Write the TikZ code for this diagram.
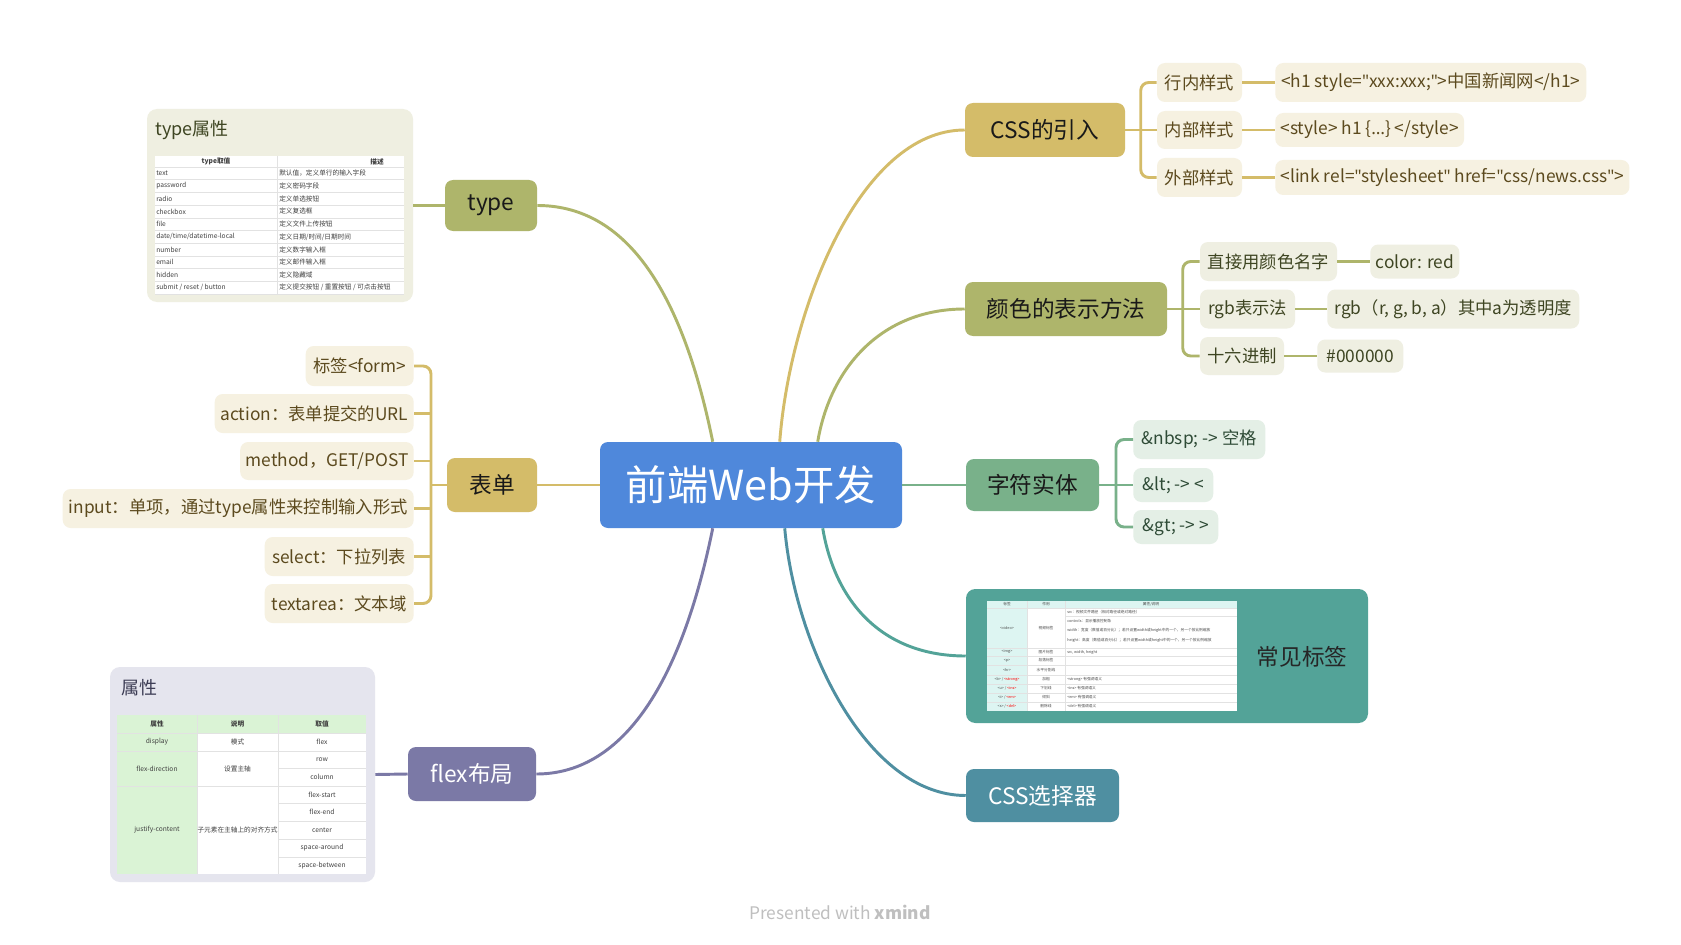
\documentclass[tikz,border=0pt]{standalone}
\usepackage{fontspec}
\setmainfont{Noto Sans CJK SC}
\newfontfamily\latf{Noto Sans}
\usetikzlibrary{calc}
\definecolor{cgold}{HTML}{D4BC69}
\definecolor{colive}{HTML}{AEB56B}
\definecolor{cgreen}{HTML}{79B18A}
\definecolor{cteal}{HTML}{53A398}
\definecolor{csteel}{HTML}{4F8FA1}
\definecolor{cpurple}{HTML}{7B79A6}
\definecolor{cblue}{HTML}{4F88DB}
\definecolor{goldbg}{HTML}{F6F1E1}
\definecolor{olivebg}{HTML}{EFEFE2}
\definecolor{greenbg}{HTML}{E4EFE6}
\definecolor{tpanelbg}{HTML}{EFEFE1}
\definecolor{fpanelbg}{HTML}{E5E5EE}
\definecolor{goldtx}{HTML}{5C4A1E}
\definecolor{olivetx}{HTML}{3E4522}
\definecolor{greentx}{HTML}{2E4B36}
\definecolor{purpletx}{HTML}{3D3D55}
\definecolor{tabgreen}{HTML}{DAF3D5}
\definecolor{tabcyan}{HTML}{DDF5F2}
\definecolor{tabline}{HTML}{E2E2E2}
\newcommand\myfs[1]{\fontsize{#1}{#1}\selectfont}
\newcommand\qt{{\latf"}}
\tikzset{
  mainbox/.style={rectangle, rounded corners=6pt, inner sep=0pt, font=\myfs{17pt}, text=black!90},
  subbox/.style={rectangle, rounded corners=6pt, inner sep=0pt, inner xsep=4pt, font=\myfs{13pt}},
  goldsub/.style={subbox, fill=goldbg, text=goldtx},
  olivesub/.style={subbox, fill=olivebg, text=olivetx},
  greensub/.style={subbox, fill=greenbg, text=greentx},
  lnk/.style={line width=2.2pt},
  cell/.style={inner sep=0pt, font=\myfs{5pt}, text=black!75},
  tcell/.style={inner sep=0pt, font=\myfs{2.8pt}, text=black!70},
  tabrule/.style={draw=tabline, line width=0.4pt}
}
\begin{document}
\begin{tikzpicture}[x=0.75pt,y=-0.75pt]
\fill[white] (0,0) rectangle (1681,945);
\useasboundingbox (0,0) rectangle (1681,945);

% ---------- main nodes ----------
\node[mainbox, fill=cblue, text=white, font=\myfs{31pt}, minimum width=226.5pt, minimum height=64.5pt] (central) at (751,485) {前端Web开发};
\node[mainbox, fill=colive, minimum width=69pt, minimum height=38.25pt] (type) at (491,205.5) {type};
\node[mainbox, fill=cgold, minimum width=67.5pt, minimum height=40.5pt] (form) at (492,485) {表单};
\node[mainbox, fill=cpurple, text=white, minimum width=96pt, minimum height=40.5pt] (flex) at (472,774) {flex布局};
\node[mainbox, fill=cgold, minimum width=120pt, minimum height=40.5pt] (css) at (1045,130) {CSS的引入};
\node[mainbox, fill=colive, minimum width=151.5pt, minimum height=40.5pt] (color) at (1066,309) {颜色的表示方法};
\node[mainbox, fill=cgreen, minimum width=99.75pt, minimum height=39pt] (entity) at (1032.5,485) {字符实体};
\node[mainbox, fill=cteal, rounded corners=7pt, minimum width=301.5pt, minimum height=100.5pt] (tags) at (1167,656) {};
\node[mainbox, fill=csteel, text=white, minimum width=114.75pt, minimum height=39.75pt] (selector) at (1042.5,795.5) {CSS选择器};

% ---------- central connectors ----------
\coordinate (tA) at ($(central.north west)+(113,0)$);
\coordinate (tB) at ($(central.north west)+(180,0)$);
\coordinate (tC) at ($(central.north west)+(218,0)$);
\coordinate (bA) at ($(central.south west)+(113,0)$);
\coordinate (bB) at ($(central.south west)+(185,0)$);
\coordinate (bC) at ($(central.south west)+(223,0)$);
\draw[lnk, colive] (type.east) .. controls +(83,0) and +(-33,-162) .. (tA);
\draw[lnk, cgold] (tB) .. controls +(10,-132) and +(-105,0) .. (css.west);
\draw[lnk, colive] (tC) .. controls +(12,-72) and +(-85,0) .. (color.west);
\draw[lnk, cgold] (central.west) -- (form.east);
\draw[lnk, cgreen] (central.east) -- (entity.west);
\draw[lnk, cpurple] (bA) .. controls +(-33,162) and +(83,0) .. (flex.east);
\draw[lnk, cteal] (bC) .. controls +(12,72) and +(-85,0) .. (tags.west);
\draw[lnk, csteel] (bB) .. controls +(10,115) and +(-100,0) .. (selector.west);

% ---------- CSS的引入 ----------
\node[goldsub, minimum width=63.75pt, minimum height=29.25pt] (c1) at (1199.5,82.5) {行内样式};
\node[goldsub, minimum width=63.75pt, minimum height=28.5pt] (c2) at (1199.5,130) {内部样式};
\node[goldsub, minimum width=63.75pt, minimum height=29.25pt] (c3) at (1199.5,177.5) {外部样式};
\node[goldsub, anchor=west, minimum width=233.25pt, minimum height=29.25pt] (l1) at (1275,82.5) {<h1 style=\qt xxx:xxx;\qt>中国新闻网</h1>};
\node[goldsub, anchor=west, minimum width=140.25pt, minimum height=25.5pt] (l2) at (1275,130) {<style> h1 \{{\latf …}\} </style>};
\node[goldsub, anchor=west, minimum width=257.25pt, minimum height=26.25pt] (l3) at (1275,177.5) {<link rel=\qt stylesheet\qt{} href=\qt css/news.css\qt>};
\draw[lnk, cgold] (css.east) -- (c2.west);
\draw[lnk, cgold, rounded corners=6pt] (c1.west) -- ++(-16,0) |- (c3.west);
\draw[lnk, cgold] (c1.east) -- (l1.west);
\draw[lnk, cgold] (c2.east) -- (l2.west);
\draw[lnk, cgold] (c3.east) -- (l3.west);

% ---------- 颜色的表示方法 ----------
\node[olivesub, minimum width=102.75pt, minimum height=29.25pt] (d1) at (1268.5,261.5) {直接用颜色名字};
\node[olivesub, minimum width=71.25pt, minimum height=29.25pt] (d2) at (1247.5,309) {rgb表示法};
\node[olivesub, minimum width=63pt, minimum height=28.5pt] (d3) at (1242,356) {十六进制};
\node[olivesub, anchor=west, minimum width=66.75pt, minimum height=25.5pt] (d1l) at (1370,261.5) {color: red};
\node[olivesub, anchor=west, minimum width=189pt, minimum height=29.25pt] (d2l) at (1327,309) {rgb（r, g, b, a）其中a为透明度};
\node[olivesub, anchor=west, minimum width=64.5pt, minimum height=24.75pt] (d3l) at (1317,356) {\#000000};
\draw[lnk, colive] (color.east) -- (d2.west);
\draw[lnk, colive, rounded corners=6pt] (d1.west) -- ++(-17,0) |- (d3.west);
\draw[lnk, colive] (d1.east) -- (d1l.west);
\draw[lnk, colive] (d2.east) -- (d2l.west);
\draw[lnk, colive] (d3.east) -- (d3l.west);

% ---------- 字符实体 ----------
\node[greensub, anchor=west, minimum width=99pt, minimum height=29.25pt] (e1) at (1133,439.5) {\&nbsp; -> 空格};
\node[greensub, anchor=west, minimum width=60pt, minimum height=25.5pt] (e2) at (1133,485) {\&lt; -> <};
\node[greensub, anchor=west, minimum width=63.75pt, minimum height=25.5pt] (e3) at (1133,527) {\&gt; -> >};
\draw[lnk, cgreen] (entity.east) -- (e2.west);
\draw[lnk, cgreen, rounded corners=6pt] (e1.west) -- ++(-17,0) |- (e3.west);

% ---------- 表单 ----------
\node[goldsub, anchor=east, minimum width=81pt, minimum height=30pt] (f1) at (414,366) {标签<form>};
\node[goldsub, anchor=east, minimum width=149.25pt, minimum height=29.25pt] (f2) at (414,413.5) {action：表单提交的URL};
\node[goldsub, anchor=east, minimum width=129.75pt, minimum height=28.5pt] (f3) at (414,461) {method，GET/POST};
\node[goldsub, anchor=east, minimum width=263.25pt, minimum height=29.25pt] (f4) at (414,508.5) {input：单项，通过type属性来控制输入形式};
\node[goldsub, anchor=east, minimum width=111.75pt, minimum height=29.25pt] (f5) at (414,556.5) {select：下拉列表};
\node[goldsub, anchor=east, minimum width=111.75pt, minimum height=29.25pt] (f6) at (414,603.5) {textarea：文本域};
\draw[lnk, cgold] (form.west) -- ++(-16,0);
\draw[lnk, cgold, rounded corners=6pt] (f1.east) -- ++(17,0) |- (f6.east);
\draw[lnk, cgold] (f2.east) -- ++(17,0);
\draw[lnk, cgold] (f3.east) -- ++(17,0);
\draw[lnk, cgold] (f4.east) -- ++(17,0);
\draw[lnk, cgold] (f5.east) -- ++(17,0);

% ---------- type panel ----------
\node[rectangle, rounded corners=7.5pt, fill=tpanelbg, minimum width=199.5pt, minimum height=144.75pt, inner sep=0pt] (tpanel) at (280,205.5) {};
\node[anchor=west, inner sep=0pt, font=\myfs{13.5pt}, text=olivetx] (ttitle) at (155,130) {type属性};
\draw[lnk, colive] (tpanel.east) -- (type.west);
\fill[white] (155,156) rectangle (404,294);
\foreach \i in {0,...,10} \draw[tabrule] (155,{167+12.7*\i}) -- (404,{167+12.7*\i});
\draw[tabrule] (277,156) -- (277,294);
\node[cell, font=\myfs{5pt}\bfseries] (th1) at (216,161.5) {type取值};
\node[cell, font=\myfs{5pt}\bfseries] (th2) at (377,161.5) {描述};
\foreach \a/\b [count=\i] in {text/{默认值，定义单行的输入字段},password/定义密码字段,radio/定义单选按钮,checkbox/定义复选框,file/定义文件上传按钮,{date/time/datetime-local}/{定义日期/时间/日期时间},number/定义数字输入框,email/定义邮件输入框,hidden/定义隐藏域,{submit / reset / button}/{定义提交按钮 / 重置按钮 / 可点击按钮}}{
  \node[cell, anchor=west] (ta\i) at (156,{160.65+12.7*\i}) {\a};
  \node[cell, anchor=west] (tb\i) at (279,{160.65+12.7*\i}) {\b};
}

% ---------- flex panel ----------
\node[rectangle, rounded corners=7.5pt, fill=fpanelbg, minimum width=198.75pt, minimum height=161.25pt, inner sep=0pt] (fpanel) at (242.5,774.5) {};
\node[anchor=west, inner sep=0pt, font=\myfs{13.5pt}, text=purpletx] (ftitle) at (121,688) {属性};
\draw[lnk, cpurple] (fpanel.east) -- (flex.west);
\fill[white] (117,715) rectangle (366,874);
\fill[tabgreen] (117,715) rectangle (366,733);
\fill[tabgreen] (117,733) rectangle (197,874);
\foreach \yy in {733,751,786} \draw[tabrule] (117,\yy) -- (366,\yy);
\foreach \yy in {768,803,821,839,857} \draw[tabrule] (278,\yy) -- (366,\yy);
\draw[tabrule] (197,715) -- (197,874);
\draw[tabrule] (278,715) -- (278,874);
\node[cell, font=\myfs{5pt}\bfseries] (fh1) at (157,724) {属性};
\node[cell, font=\myfs{5pt}\bfseries] (fh2) at (237.5,724) {说明};
\node[cell, font=\myfs{5pt}\bfseries] (fh3) at (322,724) {取值};
\node[cell] (fr1a) at (157,742) {display};
\node[cell] (fr1b) at (237.5,742) {模式};
\node[cell] (fr1c) at (322,742) {flex};
\node[cell] (fr2a) at (157,768.5) {flex-direction};
\node[cell] (fr2b) at (237.5,768.5) {设置主轴};
\node[cell] (fr2c) at (322,759.5) {row};
\node[cell] (fr3c) at (322,777) {column};
\node[cell] (fr4a) at (157,830) {justify-content};
\node[cell] (fr4b) at (237.5,830) {子元素在主轴上的对齐方式};
\node[cell] (fr4c) at (322,794.5) {flex-start};
\node[cell] (fr5c) at (322,812) {flex-end};
\node[cell] (fr6c) at (322,830) {center};
\node[cell] (fr7c) at (322,848) {space-around};
\node[cell] (fr8c) at (322,865.5) {space-between};

% ---------- 常见标签 table ----------
\fill[white] (987,601) rectangle (1237,711);
\fill[tabcyan] (987,601) rectangle (1027,711);
\fill[tabcyan] (987,601) rectangle (1237,608);
\foreach \yy in {608,648,656,665,675,684,693,702} \draw[tabrule, line width=0.3pt] (987,\yy) -- (1237,\yy);
\draw[tabrule, line width=0.3pt] (1065,616) -- (1237,616);
\draw[tabrule, line width=0.3pt] (1027,601) -- (1027,711);
\draw[tabrule, line width=0.3pt] (1065,601) -- (1065,711);
\node[tcell] (gh1) at (1007,604.5) {标签};
\node[tcell] (gh2) at (1046,604.5) {作用};
\node[tcell] (gh3) at (1151,604.5) {属性/说明};
\node[tcell] (gv1) at (1007,628) {<video>};
\node[tcell] (gv2) at (1046,628) {视频标签};
\node[tcell, anchor=west] (gv3) at (1067,612) {src：视频文件路径（相对路径或绝对路径）};
\node[tcell, anchor=west] (gv4) at (1067,621) {controls：显示播放控制条};
\node[tcell, anchor=west, align=left] (gv5) at (1067,630) {width：宽度（数值或百分比）；若只设置width或height中的一个，另一个按比例缩放};
\node[tcell, anchor=west, align=left] (gv6) at (1067,640) {height：高度（数值或百分比）；若只设置width或height中的一个，另一个按比例缩放};
\node[tcell] (gi1) at (1007,652) {<img>};
\node[tcell] (gi2) at (1046,652) {图片标签};
\node[tcell, anchor=west] (gi3) at (1067,652) {src, width, height};
\node[tcell] (gp1) at (1007,660.5) {<p>};
\node[tcell] (gp2) at (1046,660.5) {段落标签};
\node[tcell] (gr1) at (1007,670) {<hr>};
\node[tcell] (gr2) at (1046,670) {水平分割线};
\node[tcell] (gb1) at (1007,679.5) {<b> / \textcolor{red}{<strong>}};
\node[tcell] (gb2) at (1046,679.5) {加粗};
\node[tcell, anchor=west] (gb3) at (1067,679.5) {<strong> 有强调语义};
\node[tcell] (gu1) at (1007,688.5) {<u> / \textcolor{red}{<ins>}};
\node[tcell] (gu2) at (1046,688.5) {下划线};
\node[tcell, anchor=west] (gu3) at (1067,688.5) {<ins> 有强调语义};
\node[tcell] (gx1) at (1007,697.5) {<i> / \textcolor{red}{<em>}};
\node[tcell] (gx2) at (1046,697.5) {倾斜};
\node[tcell, anchor=west] (gx3) at (1067,697.5) {<em> 有强调语义};
\node[tcell] (gs1) at (1007,706.5) {<s> / \textcolor{red}{<del>}};
\node[tcell] (gs2) at (1046,706.5) {删除线};
\node[tcell, anchor=west] (gs3) at (1067,706.5) {<del> 有强调语义};
\node[inner sep=0pt, font=\myfs{17pt}, text=black!85] (tagslabel) at (1302,657) {常见标签};

% ---------- footer ----------
\node[inner sep=0pt, font=\myfs{13pt}, text=black!25] (footer) at (840,912) {Presented with \textbf{xmind}};
\end{tikzpicture}
\end{document}
